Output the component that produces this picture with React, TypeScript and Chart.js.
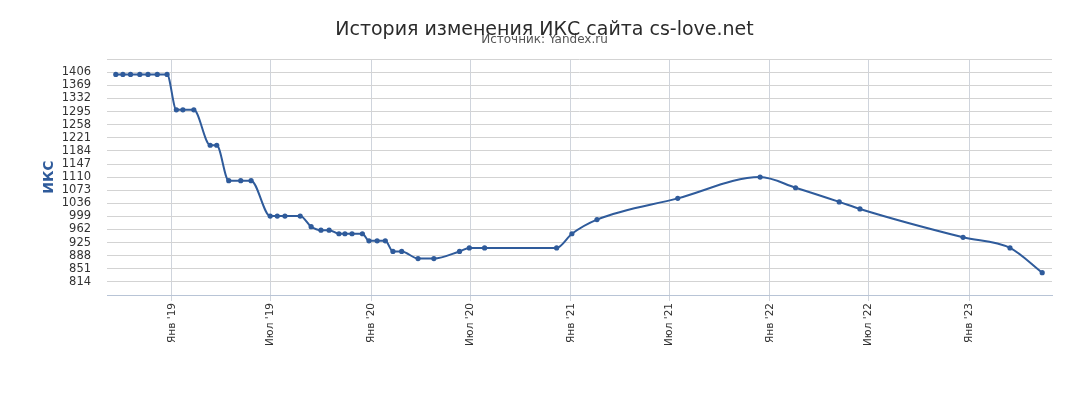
import { useEffect, useRef } from "react";
import { Chart, ChartConfiguration, registerables } from "chart.js";

Chart.register(...registerables);

// snapshot dates and IKS values
const dates = [
  "2018-09-20", "2018-10-03", "2018-10-17", "2018-11-03", "2018-11-18", "2018-12-05", "2018-12-23",
  "2019-01-09", "2019-01-21", "2019-02-10",
  "2019-03-12", "2019-03-24",
  "2019-04-15", "2019-05-07", "2019-05-26",
  "2019-06-30", "2019-07-13", "2019-07-27", "2019-08-24",
  "2019-09-13",
  "2019-10-01", "2019-10-16",
  "2019-11-03", "2019-11-14", "2019-11-27", "2019-12-16",
  "2019-12-28", "2020-01-12", "2020-01-27",
  "2020-02-10", "2020-02-26",
  "2020-03-27", "2020-04-25",
  "2020-06-11",
  "2020-06-29", "2020-07-27", "2020-12-06",
  "2021-01-03", "2021-02-18", "2021-07-16", "2021-12-14",
  "2022-02-17", "2022-05-08", "2022-06-15", "2022-12-21",
  "2023-03-17", "2023-05-15",
];
const iksValues = [
  1400, 1400, 1400, 1400, 1400, 1400, 1400,
  1300, 1300, 1300,
  1200, 1200,
  1100, 1100, 1100,
  1000, 1000, 1000, 1000,
  970,
  960, 960,
  950, 950, 950, 950,
  930, 930, 930,
  900, 900,
  880, 880,
  900,
  910, 910, 910,
  950, 990, 1050, 1110,
  1080, 1040, 1020, 940,
  910, 840,
];

const xTickDates = [
  "2019-01-01", "2019-07-01", "2020-01-01", "2020-07-01", "2021-01-01",
  "2021-07-01", "2022-01-01", "2022-07-01", "2023-01-01",
];
const xTickLabels = [
  "Янв '19", "Июл '19", "Янв '20", "Июл '20", "Янв '21",
  "Июл '21", "Янв '22", "Июл '22", "Янв '23",
];
const yTickValues = [
  777, 814, 851, 888, 925, 962, 999, 1036, 1073, 1110,
  1147, 1184, 1221, 1258, 1295, 1332, 1369, 1406, 1443,
];

const toMs = (d: string) => Date.parse(d + "T00:00:00Z");
const BLUE = "#2f5b9b";

export default function App() {
  const canvasRef = useRef<HTMLCanvasElement>(null);
  const chartRef = useRef<Chart | null>(null);

  useEffect(() => {
    if (!canvasRef.current) return;
    if (chartRef.current) chartRef.current.destroy();

    const xTicks = xTickDates.map(toMs);

    const config: ChartConfiguration<"line"> = {
      type: "line",
      data: {
        datasets: [{
          label: "ИКС",
          data: dates.map((d, i) => ({ x: toMs(d), y: iksValues[i] })),
          borderColor: BLUE,
          backgroundColor: BLUE,
          borderWidth: 2,
          pointRadius: 2.6,
          pointBorderWidth: 0,
          cubicInterpolationMode: "monotone",
        }],
      },
      options: {
        responsive: true,
        maintainAspectRatio: false,
        animation: false,
        layout: { padding: { left: 37, right: 36, top: 0, bottom: 62 } },
        plugins: {
          legend: { display: false },
          tooltip: { enabled: false },
          title: {
            display: true,
            text: "История изменения ИКС сайта cs-love.net",
            color: "#2b2b2b",
            font: { family: "DejaVu Sans", size: 19, weight: "normal" },
            padding: { top: 19, bottom: -9.5 },
          },
          subtitle: {
            display: true,
            text: "Источник: Yandex.ru",
            color: "#555555",
            font: { family: "DejaVu Sans", size: 12 },
            padding: { top: 0, bottom: 12.5 },
          },
        },
        scales: {
          x: {
            type: "linear",
            min: toMs("2018-09-04"),
            max: toMs("2023-06-02"),
            afterBuildTicks: (axis) => {
              axis.ticks = xTicks.map(v => ({ value: v }));
            },
            ticks: {
              autoSkip: false,
              minRotation: 90,
              maxRotation: 90,
              padding: 2,
              color: "#333333",
              font: { family: "DejaVu Sans", size: 10.5 },
              callback: (value) => {
                const i = xTicks.indexOf(Number(value));
                return i >= 0 ? xTickLabels[i] : "";
              },
            },
            grid: { color: "#cfd4dc", tickLength: 6 },
            border: { color: "#b8c4d6" },
          },
          y: {
            type: "linear",
            min: 777,
            max: 1443,
            afterBuildTicks: (axis) => {
              axis.ticks = yTickValues.map(v => ({ value: v }));
            },
            title: {
              display: true,
              text: "ИКС",
              color: BLUE,
              font: { family: "DejaVu Sans", size: 14, weight: "bold" },
              padding: { top: 4, bottom: -12 },
            },
            ticks: {
              autoSkip: false,
              padding: 16,
              color: "#333333",
              font: { family: "DejaVu Sans", size: 11.5 },
              callback: (value) => {
                const v = Number(value);
                return v === 777 || v === 1443 ? "" : String(v);
              },
            },
            grid: { color: "#d3d3d3", drawTicks: false },
            border: { display: false },
          },
        },
      },
    };

    chartRef.current = new Chart(canvasRef.current, config);

    return () => {
      if (chartRef.current) {
        chartRef.current.destroy();
        chartRef.current = null;
      }
    };
  }, []);

  return (
    <div style={{ position: "fixed", left: 0, top: 0, width: 1088, height: 410, background: "#fff" }}>
      <canvas ref={canvasRef} />
    </div>
  );
}
